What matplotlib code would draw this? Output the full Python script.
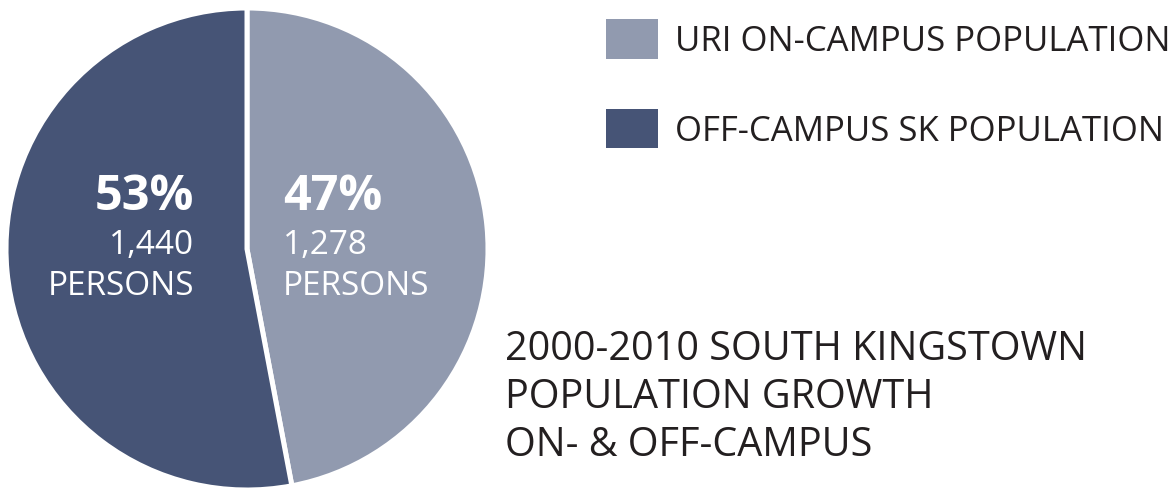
import matplotlib
matplotlib.use("Agg")
import matplotlib.pyplot as plt

labels = ["URI ON-CAMPUS POPULATION", "OFF-CAMPUS SK POPULATION"]
persons = [1278, 1440]
shares = [47, 53]
colors = ["#919aaf", "#465476"]
title_lines = ["2000-2010 SOUTH KINGSTOWN", "POPULATION GROWTH", "ON- & OFF-CAMPUS"]

plt.rcParams["font.family"] = ["Open Sans", "DejaVu Sans"]

W, H = 1175, 489
fig = plt.figure(figsize=(W / 100, H / 100), dpi=100)


def fx(px):
    return px / W


def fy(py):
    return 1 - py / H


# pie axes: center (247, 250), radius 241 px
r = 241
ax = fig.add_axes([fx(247 - r), fy(250 + r), 2 * r / W, 2 * r / H])
wedges, _ = ax.pie(persons, colors=colors, startangle=90, counterclock=False,
                   wedgeprops=dict(edgecolor="white", linewidth=3.6))
ax.set_xlim(-1, 1)
ax.set_ylim(-1, 1)
ax.set_aspect("equal")
ax.axis("off")

# labels inside wedges
big, small = 35, 24
fig.text(fx(283), fy(197), f"{shares[0]}%", color="white", fontsize=big,
         fontweight="bold", ha="left", va="center")
fig.text(fx(283), fy(245), f"{persons[0]:,}", color="white", fontsize=small,
         ha="left", va="center")
fig.text(fx(283), fy(287), "PERSONS", color="white", fontsize=small,
         ha="left", va="center")
fig.text(fx(194), fy(197), f"{shares[1]}%", color="white", fontsize=big,
         fontweight="bold", ha="right", va="center")
fig.text(fx(194), fy(245), f"{persons[1]:,}", color="white", fontsize=small,
         ha="right", va="center")
fig.text(fx(194), fy(287), "PERSONS", color="white", fontsize=small,
         ha="right", va="center")

fs = 25
px = fs * 100 / 72
leg = fig.legend(wedges, labels, loc="upper left",
                 bbox_to_anchor=(fx(606), fy(20)), frameon=False,
                 fontsize=fs, handlelength=52 / px,
                 handleheight=48 / px,
                 handletextpad=17 / px,
                 labelspacing=50 / px,
                 borderpad=0, borderaxespad=0, labelcolor="#231f20")
for h in leg.legend_handles:
    h.set_edgecolor("none")

for i, line in enumerate(title_lines):
    fig.text(fx(505), fy(350 + 48 * i), line, fontsize=28.5, color="#231f20",
             ha="left", va="center")

fig.savefig("out.png", dpi=100)
